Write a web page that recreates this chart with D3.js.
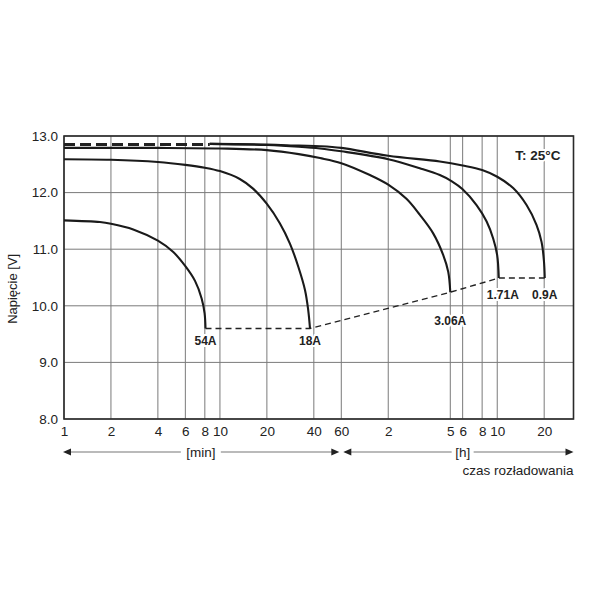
<!DOCTYPE html>
<html>
<head>
<meta charset="utf-8">
<script src="https://cdn.jsdelivr.net/npm/d3@7"></script>
<style>
  body { margin: 0; background: #fff; }
  text { font-family: "Liberation Sans", Arial, sans-serif; fill: #222; }
</style>
</head>
<body>
<svg id="chart" width="590" height="590"></svg>
<script>
// discharge time in minutes, voltage in V
var curve54A  = [[1, 11.51], [1.7, 11.48], [2, 11.45], [2.78, 11.35], [4, 11.15], [5.02, 10.95], [6, 10.7], [6.92, 10.44], [7.63, 10.13], [7.97, 9.87], [8.08, 9.6]];
var curve18A  = [[1, 12.59], [2, 12.58], [4, 12.54], [6, 12.49], [8, 12.44], [10, 12.38], [13.4, 12.24], [16.3, 12.07], [20, 11.8], [24.2, 11.46], [28.1, 11.1], [31.8, 10.69], [35.1, 10.28], [36.8, 9.93], [37.8, 9.6]];
var curve306A = [[1, 12.79], [4, 12.79], [10, 12.78], [20, 12.75], [32, 12.68], [43.8, 12.61], [60, 12.52], [91.5, 12.31], [120, 12.14], [157, 11.89], [191, 11.61], [233, 11.28], [270, 10.9], [291, 10.6], [300, 10.24]];
var curve171A = [[8.6, 12.86], [20, 12.84], [32, 12.81], [43.8, 12.78], [60, 12.73], [120, 12.59], [191, 12.43], [257, 12.31], [307, 12.2], [360, 12.06], [442, 11.78], [513, 11.49], [565, 11.19], [599, 10.9], [614, 10.49]];
var curve09A  = [[8.6, 12.86], [20, 12.85], [32, 12.83], [43.8, 12.82], [60, 12.79], [120, 12.65], [257, 12.55], [360, 12.48], [480, 12.4], [600, 12.28], [759, 12.08], [925, 11.78], [1071, 11.43], [1154, 11.13], [1195, 10.8], [1210, 10.49]];
var initialLine = [[1, 12.85], [8.6, 12.85]];
var endVoltage  = [[8.08, 9.6], [37.8, 9.6], [300, 10.24], [614, 10.49], [1210, 10.49]];

var curveLabels = ['54A', '18A', '3.06A', '1.71A', '0.9A'];
var labelOffsets = [17, 17, 33, 21, 21];
var xTickValues = [1, 2, 4, 6, 8, 10, 20, 40, 60, 120, 300, 360, 480, 600, 1200];
var xTickLabels = ['1', '2', '4', '6', '8', '10', '20', '40', '60', '2', '5', '6', '8', '10', '20'];
var yTickValues = [8, 9, 10, 11, 12, 13];

var margin = { top: 136, right: 16.5, bottom: 171, left: 64 };
var width = 590 - margin.left - margin.right;
var height = 590 - margin.top - margin.bottom;

var svg = d3.select('#chart');
var g = svg.append('g')
  .attr('transform', 'translate(' + margin.left + ',' + margin.top + ')');

var x = d3.scaleLog().domain([1, 1850]).range([0, width]);
var y = d3.scaleLinear().domain([8, 13]).range([height, 0]);

/**
 * Grid
 */
g.append('g')
  .selectAll('line.vgrid')
  .data(xTickValues)
  .enter()
  .append('line')
  .attr('class', 'vgrid')
  .attr('x1', function (d) { return x(d); })
  .attr('x2', function (d) { return x(d); })
  .attr('y1', 0)
  .attr('y2', height)
  .attr('stroke', '#7a7a7a')
  .attr('stroke-width', 1);

g.append('g')
  .selectAll('line.hgrid')
  .data(yTickValues)
  .enter()
  .append('line')
  .attr('class', 'hgrid')
  .attr('x1', 0)
  .attr('x2', width)
  .attr('y1', function (d) { return y(d); })
  .attr('y2', function (d) { return y(d); })
  .attr('stroke', '#7a7a7a')
  .attr('stroke-width', 1);

g.append('rect')
  .attr('width', width)
  .attr('height', height)
  .attr('fill', 'none')
  .attr('stroke', '#2a2a2a')
  .attr('stroke-width', 1.6);

/**
 * Axes labels
 */
var xAxis = d3.axisBottom(x)
  .tickValues(xTickValues)
  .tickSize(0)
  .tickPadding(7)
  .tickFormat(function (d, i) { return xTickLabels[i]; });

g.append('g')
  .attr('transform', 'translate(0,' + height + ')')
  .call(xAxis)
  .call(function (a) { a.select('.domain').remove(); })
  .selectAll('text')
  .style('font-size', '13.5px')
  .attr('fill', '#222');

var yAxis = d3.axisLeft(y)
  .tickValues(yTickValues)
  .tickSize(0)
  .tickPadding(6)
  .tickFormat(d3.format('.1f'));

g.append('g')
  .call(yAxis)
  .call(function (a) { a.select('.domain').remove(); })
  .selectAll('text')
  .style('font-size', '13.5px')
  .attr('fill', '#222');

svg.append('text')
  .attr('transform', 'translate(17,' + (margin.top + y(10.3)) + ') rotate(-90)')
  .attr('text-anchor', 'middle')
  .style('font-size', '13px')
  .text('Napięcie [V]');

/**
 * Curves
 */
var line = d3.line()
  .x(function (d) { return x(d[0]); })
  .y(function (d) { return y(d[1]); })
  .curve(d3.curveCatmullRom.alpha(0.5));

var curves = [curve54A, curve18A, curve306A, curve171A, curve09A];

g.append('path')
  .attr('d', d3.line().x(function (d) { return x(d[0]); }).y(function (d) { return y(d[1]); })(endVoltage))
  .attr('fill', 'none')
  .attr('stroke', '#222')
  .attr('stroke-width', 1.4)
  .attr('stroke-dasharray', '6,4');

g.append('path')
  .attr('d', line(initialLine))
  .attr('fill', 'none')
  .attr('stroke', '#222')
  .attr('stroke-width', 3.2)
  .attr('stroke-dasharray', '11,5');

g.selectAll('path.curve')
  .data(curves)
  .enter()
  .append('path')
  .attr('class', 'curve')
  .attr('d', line)
  .attr('fill', 'none')
  .attr('stroke', '#1a1a1a')
  .attr('stroke-width', 2.1);

// labels under end points
g.selectAll('text.curve-label')
  .data(curves)
  .enter()
  .append('text')
  .attr('class', 'curve-label')
  .attr('x', function (d, i) {
    var last = d[d.length - 1];
    return x(last[0]) + (i === 3 ? 4 : 0);
  })
  .attr('y', function (d, i) { return y(d[d.length - 1][1]) + labelOffsets[i]; })
  .attr('text-anchor', 'middle')
  .style('font-size', '12px')
  .style('font-weight', 'bold')
  .attr('stroke', '#fff')
  .attr('stroke-width', 4)
  .attr('paint-order', 'stroke')
  .text(function (d, i) { return curveLabels[i]; });

g.append('text')
  .attr('x', width - 13)
  .attr('y', 24)
  .attr('text-anchor', 'end')
  .style('font-size', '13.5px')
  .style('font-weight', 'bold')
  .attr('stroke', '#fff')
  .attr('stroke-width', 4)
  .attr('paint-order', 'stroke')
  .text('T: 25°C');

/**
 * Time unit arrows
 */
var arrowY = height + 33;
var arrowColor = '#777';

function arrowHead(px, dir) {
  g.append('path')
    .attr('d', 'M' + px + ',' + arrowY +
      'L' + (px - dir * 8) + ',' + (arrowY - 3.5) +
      'L' + (px - dir * 8) + ',' + (arrowY + 3.5) + 'Z')
    .attr('fill', '#222');
}

function arrowSpan(x0, x1, label, cx, gap) {
  g.append('line')
    .attr('x1', x0 + 2).attr('x2', cx - gap)
    .attr('y1', arrowY).attr('y2', arrowY)
    .attr('stroke', arrowColor).attr('stroke-width', 1.2);
  g.append('line')
    .attr('x1', cx + gap).attr('x2', x1 - 2)
    .attr('y1', arrowY).attr('y2', arrowY)
    .attr('stroke', arrowColor).attr('stroke-width', 1.2);
  arrowHead(x0, -1);
  arrowHead(x1, 1);
  g.append('text')
    .attr('x', cx)
    .attr('y', arrowY + 5)
    .attr('text-anchor', 'middle')
    .style('font-size', '13.5px')
    .text(label);
}

arrowSpan(x(1) - 1, x(60) - 2, '[min]', x(8) - 4, 20);
arrowSpan(x(60) + 2, width, '[h]', x(360), 11);

g.append('text')
  .attr('x', width)
  .attr('y', arrowY + 23)
  .attr('text-anchor', 'end')
  .style('font-size', '13.5px')
  .text('czas rozładowania');
</script>
</body>
</html>
